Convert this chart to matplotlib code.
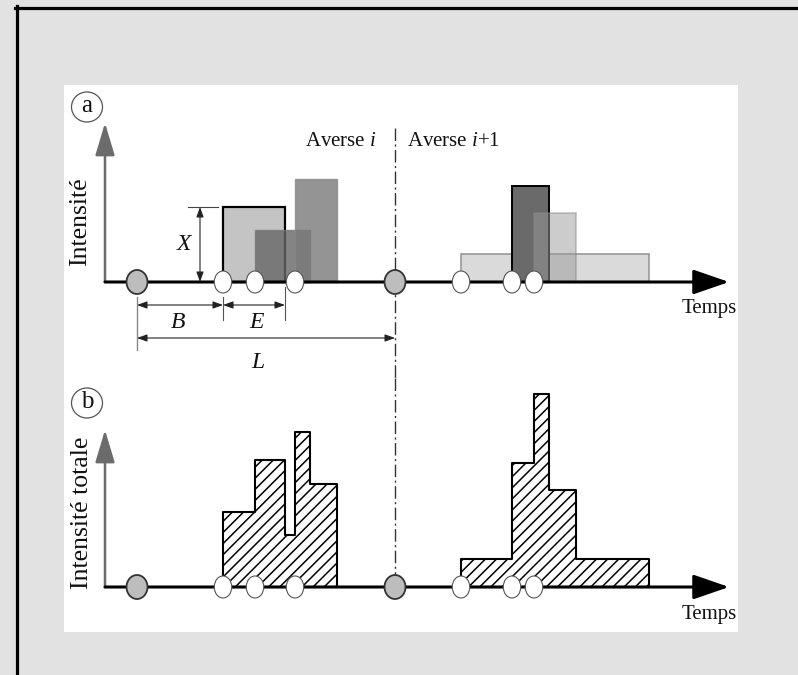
import matplotlib
matplotlib.use("Agg")
import matplotlib.pyplot as plt
from matplotlib.patches import Rectangle, Ellipse
from matplotlib.lines import Line2D

plt.rcParams['font.family'] = 'Liberation Serif'
plt.rcParams['mathtext.fontset'] = 'custom'
plt.rcParams['mathtext.rm'] = 'Liberation Serif'
plt.rcParams['mathtext.it'] = 'Liberation Serif:italic'
plt.rcParams['hatch.linewidth'] = 1.1

# storms (grey dots) and rain cells (white dots + rectangles)
storm_start = [3.2, 29.0]
cell_start = [11.8, 15.0, 19.0, 35.6, 40.7, 42.9]
cell_dur = [6.2, 5.5, 4.2, 18.8, 3.7, 4.2]
cell_int = [7.5, 5.2, 10.3, 2.8, 9.6, 6.9]
cell_storm = [0, 0, 0, 1, 1, 1]
t_end = 62.4

# rectangle styles for each cell
cell_face = ['#c4c4c4', '#666666', '#7a7a7a', '#dadada', '#6a6a6a', '#9a9a9a']
cell_alpha = [1.0, 0.8, 0.8, 1.0, 1.0, 0.5]
cell_edge = ['black', '#777777', '#888888', '#999999', 'black', '#888888']
cell_lw = [1.6, 1.0, 1.0, 1.2, 1.4, 1.2]

txt = '#111111'

fig = plt.figure(figsize=(7.98, 6.75), dpi=100, facecolor='#e2e2e2')
W, H = 798, 675
fig.add_artist(Rectangle((64 / W, 43 / H), 674 / W, 547 / H, zorder=-10,
                         transform=fig.transFigure, facecolor='white', edgecolor='none'))
fig.add_artist(Line2D([16.5 / W, 16.5 / W], [0, 1 - 6 / H], color='black', lw=2.3, zorder=-5))
fig.add_artist(Line2D([15 / W, 1], [1 - 7.5 / H, 1 - 7.5 / H], color='black', lw=2.3, zorder=-5))

ax_a = fig.add_axes([64 / W, 297 / H, 674 / W, 293 / H])
ax_a.set_xlim(-4.1, 63.3)
ax_a.set_ylim(-9.6, 19.7)
ax_b = fig.add_axes([64 / W, 43 / H, 674 / W, 254 / H])
ax_b.set_xlim(-4.1, 63.3)
ax_b.set_ylim(-4.5, 20.9)
for ax in (ax_a, ax_b):
    ax.axis('off')
    ax.patch.set_visible(False)


def draw_axes(ax, ytop, ylabel, ylab_pos, temps_y):
    ax.annotate('', xy=(0, ytop), xytext=(0, 0),
                arrowprops=dict(arrowstyle='-|>,head_length=1.0,head_width=0.3',
                                color='#6b6b6b', lw=1.8, mutation_scale=20,
                                shrinkA=0, shrinkB=0), zorder=3)
    ax.annotate('', xy=(t_end, 0), xytext=(0, 0),
                arrowprops=dict(arrowstyle='-|>,head_length=1.1,head_width=0.38',
                                color='black', lw=2.2, mutation_scale=20,
                                shrinkA=0, shrinkB=0), zorder=4)
    ax.text(ylab_pos[0], ylab_pos[1], ylabel, rotation=90, ha='center', va='center',
            fontsize=18.5, color=txt)
    ax.text(63.2, temps_y, 'Temps', ha='right', va='center', fontsize=15, color=txt)
    for s in storm_start:
        ax.add_patch(Ellipse((s, 0), 2.1, 2.4, facecolor='#bdbdbd', edgecolor='#333333',
                             lw=1.3, zorder=6))
    for s in cell_start:
        ax.add_patch(Ellipse((s, 0), 1.75, 2.2, facecolor='white', edgecolor='#555555',
                             lw=0.8, zorder=6))


def circled(ax, x, y, letter):
    ax.add_patch(Ellipse((x, y), 3.1, 3.0, facecolor='white', edgecolor='#555555', lw=0.9))
    ax.text(x, y + 0.1, letter, ha='center', va='center', fontsize=18, color=txt)


# ---- panel a
for i in range(len(cell_start)):
    ax_a.add_patch(Rectangle((cell_start[i], 0), cell_dur[i], cell_int[i],
                             facecolor=cell_face[i], alpha=cell_alpha[i],
                             edgecolor=cell_edge[i], lw=cell_lw[i], zorder=2))
draw_axes(ax_a, 15.9, 'Intensité', (-2.5, 6.0), -2.6)
circled(ax_a, -1.8, 17.5, 'a')

dash = (0, (9, 2.5, 1.5, 2.5))
ax_a.plot([storm_start[1]] * 2, [15.4, -9.6], color='#333333', lw=1.0, linestyle=dash)
ax_a.text(27.2, 14.0, 'Averse $i$', ha='right', va='center', fontsize=15, color=txt)
ax_a.text(30.2, 14.0, 'Averse $i$+1', ha='left', va='center', fontsize=15, color=txt)

dim = dict(arrowstyle='<|-|>,head_length=0.5,head_width=0.18', color='#222222',
           lw=0.8, mutation_scale=12, shrinkA=0, shrinkB=0)
# X
ax_a.annotate('', xy=(9.5, cell_int[0]), xytext=(9.5, 0), arrowprops=dim)
ax_a.plot([8.3, 11.3], [cell_int[0]] * 2, color='#444444', lw=0.8)
ax_a.text(8.0, cell_int[0] / 2, '$X$', ha='center', va='center', fontsize=17, color=txt)
# ticks
ax_a.plot([storm_start[0]] * 2, [-1.5, -6.8], color='#888888', lw=1.0)
ax_a.plot([cell_start[0]] * 2, [-1.5, -3.8], color='#555555', lw=0.8)
ax_a.plot([cell_start[0] + cell_dur[0]] * 2, [-0.5, -3.8], color='#555555', lw=0.8)
# B, E, L
ax_a.annotate('', xy=(cell_start[0], -2.3), xytext=(storm_start[0], -2.3), arrowprops=dim)
ax_a.annotate('', xy=(cell_start[0] + cell_dur[0], -2.3), xytext=(cell_start[0], -2.3),
              arrowprops=dim)
ax_a.annotate('', xy=(storm_start[1], -5.6), xytext=(storm_start[0], -5.6), arrowprops=dim)
ax_a.text(7.3, -4.0, '$B$', ha='center', va='center', fontsize=17, color=txt)
ax_a.text(15.2, -4.0, '$E$', ha='center', va='center', fontsize=17, color=txt)
ax_a.text(15.3, -8.0, '$L$', ha='center', va='center', fontsize=17, color=txt)

# ---- panel b : total intensity per storm
for k in range(len(storm_start)):
    idx = [i for i in range(len(cell_start)) if cell_storm[i] == k]
    edges = sorted(set([cell_start[i] for i in idx] +
                       [cell_start[i] + cell_dur[i] for i in idx]))
    levels = [sum(cell_int[i] for i in idx
                  if cell_start[i] <= e < cell_start[i] + cell_dur[i]) for e in edges]
    ax_b.fill_between(edges, 0, levels, step='post', facecolor='white',
                      edgecolor='black', hatch='///', lw=1.5, zorder=2)
draw_axes(ax_b, 15.7, 'Intensité totale', (-2.3, 7.4), -2.8)
circled(ax_b, -1.8, 18.4, 'b')
ax_b.plot([storm_start[1]] * 2, [20.9, 0], color='#333333', lw=1.0, linestyle=dash)

fig.savefig('out.png', dpi=100, facecolor=fig.get_facecolor())
